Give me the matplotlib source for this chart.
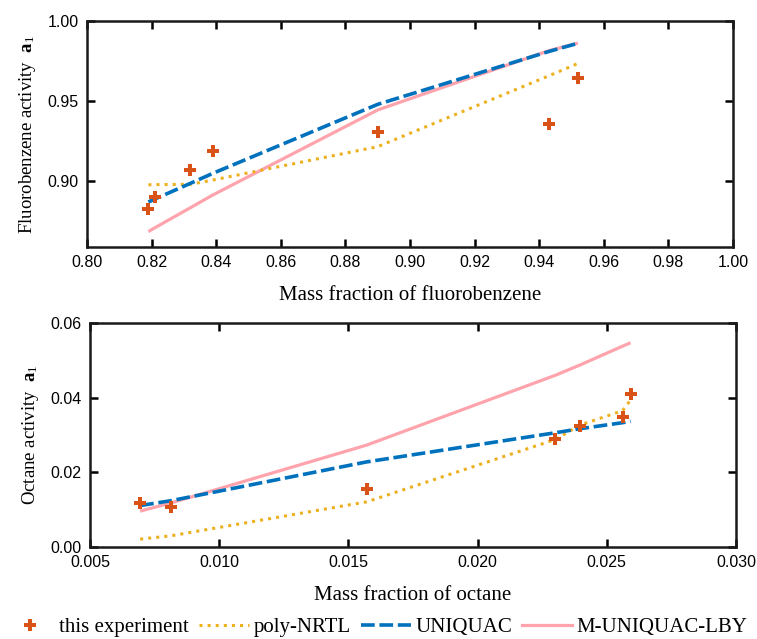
import matplotlib
matplotlib.use("Agg")
import matplotlib.pyplot as plt
from matplotlib.lines import Line2D

plt.rcParams['mathtext.fontset'] = 'custom'
plt.rcParams['mathtext.rm'] = 'Liberation Serif'
plt.rcParams['mathtext.bf'] = 'Liberation Serif:bold'
plt.rcParams['mathtext.it'] = 'Liberation Serif:italic'

# ---------------- data: top panel (fluorobenzene) ----------------
fb_x = [0.819, 0.821, 0.832, 0.839, 0.890, 0.943, 0.952]
fb_exp = [0.883, 0.890, 0.907, 0.919, 0.931, 0.9355, 0.9646]
fb_nrtl = [0.8978, 0.8979, 0.8981, 0.9008, 0.9216, 0.9658, 0.9735]
fb_uniquac = [0.8871, 0.8889, 0.8987, 0.9050, 0.9480, 0.9810, 0.9861]
fb_lby = [0.8686, 0.8710, 0.8835, 0.8915, 0.9445, 0.9815, 0.9862]

# ---------------- data: bottom panel (octane) ----------------
oc_x = [0.00694, 0.00813, 0.01571, 0.02301, 0.02398, 0.02561, 0.02592]
oc_exp = [0.0117, 0.0108, 0.0155, 0.0289, 0.0325, 0.0349, 0.0409]
oc_nrtl = [0.0021, 0.0030, 0.0121, 0.0288, 0.0327, 0.0365, 0.0394]
oc_uniquac = [0.0111, 0.0124, 0.0228, 0.0306, 0.0317, 0.0333, 0.0337]
oc_lby = [0.0096, 0.0118, 0.0273, 0.0460, 0.0488, 0.0538, 0.0547]

top_xticks = [0.80, 0.82, 0.84, 0.86, 0.88, 0.90, 0.92, 0.94, 0.96, 0.98, 1.00]
top_yticks = [0.90, 0.95, 1.00]
bot_xticks = [0.005, 0.010, 0.015, 0.020, 0.025, 0.030]
bot_yticks = [0.00, 0.02, 0.04, 0.06]

C_EXP = '#D95319'
C_NRTL = '#EDB120'
C_UNI = '#0072BD'
C_LBY = '#FFA3AC'

serif = 'Liberation Serif'
sans = 'Liberation Sans'

fig = plt.figure(figsize=(7.57, 6.39), dpi=100)
ax1 = fig.add_axes([87/757, 1-247/639, 646/757, 226/639])
ax2 = fig.add_axes([90/757, 1-547/639, 646/757, 224/639])

uni_ls = (0, (3.8, 1.3))

def draw(ax, x, exp, nrtl, uni, lby):
    ax.plot(x, lby, color=C_LBY, lw=2.3, solid_capstyle='butt', zorder=2)
    ax.plot(x, nrtl, color=C_NRTL, lw=2.2, linestyle=':', zorder=3)
    ax.plot(x, uni, color=C_UNI, lw=2.6, linestyle=uni_ls, zorder=4)
    ax.plot(x, exp, linestyle='none', marker='P', color=C_EXP, markersize=9,
            markeredgewidth=0, zorder=5)

def style(ax, xt, yt, xfmt, yfmt, xlim, ylim):
    ax.set_xlim(*xlim)
    ax.set_ylim(*ylim)
    ax.set_xticks(xt)
    ax.set_yticks(yt)
    ax.set_xticklabels([xfmt.format(v) for v in xt], fontfamily=sans, fontsize=11.5)
    ax.set_yticklabels([yfmt.format(v) for v in yt], fontfamily=sans, fontsize=11.5)
    ax.tick_params(direction='in', length=6, width=1.8, top=True, right=True, pad=6)
    for s in ax.spines.values():
        s.set_linewidth(1.8)
        s.set_color('#1a1a1a')

draw(ax1, fb_x, fb_exp, fb_nrtl, fb_uniquac, fb_lby)
style(ax1, top_xticks, top_yticks, '{:.2f}', '{:.2f}', (0.80, 1.00), (0.859, 1.00))
ax1.set_xlabel('Mass fraction of fluorobenzene', fontfamily=serif, fontsize=15, labelpad=11)
ax1.set_ylabel(r'Fluorobenzene activity  $\mathbf{a}_1$', fontfamily=serif, fontsize=13.5, labelpad=7)

draw(ax2, oc_x, oc_exp, oc_nrtl, oc_uniquac, oc_lby)
style(ax2, bot_xticks, bot_yticks, '{:.3f}', '{:.2f}', (0.005, 0.030), (0.0, 0.06))
ax2.set_xlabel('Mass fraction of octane', fontfamily=serif, fontsize=15, labelpad=11)
ax2.set_ylabel(r'Octane activity  $\mathbf{a}_1$', fontfamily=serif, fontsize=13.5, labelpad=7)

handles = [
    Line2D([], [], linestyle='none', marker='P', color=C_EXP, markersize=9, markeredgewidth=0),
    Line2D([], [], color=C_NRTL, lw=2.2, linestyle=':'),
    Line2D([], [], color=C_UNI, lw=2.6, linestyle=uni_ls),
    Line2D([], [], color=C_LBY, lw=2.3),
]
labels = ['this experiment', 'poly-NRTL', 'UNIQUAC', 'M-UNIQUAC-LBY']
fig.legend(handles, labels, loc='center', bbox_to_anchor=(0.497, 1-627/639), ncol=4,
           frameon=False, prop={'family': serif, 'size': 15}, handlelength=2.4,
           handletextpad=0.2, columnspacing=0.5, borderaxespad=0, borderpad=0)

fig.savefig('out.png', dpi=100)
